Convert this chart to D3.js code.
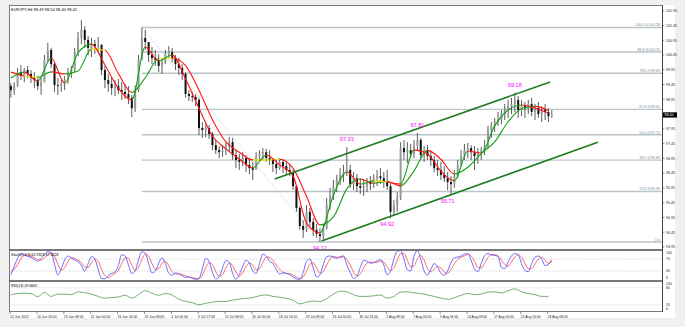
<!DOCTYPE html>
<html>
<head>
<meta charset="utf-8">
<script src="https://cdn.jsdelivr.net/npm/d3@7"></script>
<style>
body { margin: 0; background: #f0f0f0; }
svg text { font-family: "Liberation Sans", Arial, sans-serif; }
</style>
</head>
<body>
<script>
// EURJPY H4, one entry per two H4 bars
var highs = [99.50,99.53,100.01,100.11,100.01,100.08,99.94,99.87,99.74,99.67,
  100.45,100.86,100.69,100.21,99.67,99.60,99.74,100.01,100.08,100.69,
  101.23,101.63,101.43,101.09,101.03,100.96,101.06,100.82,100.08,99.81,
  99.67,99.60,99.64,99.53,99.47,99.40,99.10,99.43,100.45,101.38,
  101.30,100.82,100.72,100.62,100.48,100.35,100.62,100.75,100.69,100.45,
  100.35,100.14,99.87,99.26,99.20,99.13,99.00,98.18,98.11,98.08,
  97.84,97.57,97.37,97.40,97.47,97.67,97.64,97.23,97.10,97.16,
  97.06,96.96,96.83,97.16,97.23,97.30,97.27,97.23,96.96,96.90,
  96.96,96.90,96.83,96.76,96.56,96.05,95.34,94.86,95.37,95.27,
  94.93,94.73,94.59,94.73,95.61,95.95,96.22,96.39,96.62,96.73,
  97.33,96.73,96.49,96.42,96.28,96.22,96.28,96.35,96.42,96.56,
  96.62,96.49,96.56,96.15,95.54,95.81,97.50,97.57,97.50,97.44,
  97.57,97.81,97.64,97.37,97.40,97.23,97.03,96.90,96.83,96.69,
  96.49,96.35,96.56,96.90,97.23,97.44,97.47,97.40,97.37,97.30,
  97.33,97.57,98.05,98.18,98.32,98.52,98.59,98.79,98.93,99.00,
  99.18,99.06,98.93,98.86,98.93,99.00,98.79,98.86,98.72,98.79,
  98.65,98.59];
var lows = [99.00,99.10,99.37,99.60,99.53,99.67,99.50,99.33,99.26,99.10,
  99.53,100.21,100.01,99.20,99.10,99.20,99.26,99.47,99.67,99.87,
  100.41,100.82,100.69,100.45,100.38,100.48,100.55,99.77,99.33,99.20,
  99.10,99.06,99.13,98.93,98.96,98.79,98.35,98.52,99.20,100.35,
  100.62,100.21,100.14,100.08,99.87,99.81,100.14,100.35,100.21,99.94,
  99.77,99.60,99.00,98.89,98.86,98.72,97.74,97.64,97.67,97.61,
  97.23,97.10,96.96,97.00,97.06,97.16,96.90,96.62,96.56,96.69,
  96.49,96.42,96.22,96.62,96.83,96.90,96.83,96.73,96.49,96.42,
  96.56,96.45,96.39,96.35,95.88,95.14,94.53,94.26,94.46,94.66,
  94.32,94.26,94.12,94.19,94.53,95.20,95.54,95.81,96.05,96.15,
  96.35,95.95,95.88,95.81,95.74,95.68,95.81,95.88,95.95,96.01,
  96.08,95.95,95.88,94.92,95.00,95.14,95.54,96.90,96.79,96.96,
  96.96,97.23,96.90,96.83,96.90,96.69,96.49,96.35,96.22,96.15,
  95.88,95.71,95.95,96.28,96.69,96.90,96.96,96.90,96.56,96.76,
  96.90,97.06,97.30,97.64,97.84,98.05,98.11,98.25,98.32,98.45,
  98.52,98.32,98.38,98.32,98.45,98.38,98.25,98.32,98.18,98.25,
  98.18,98.32];
var closes = [99.26,99.43,99.87,99.77,99.94,99.81,99.67,99.60,99.40,99.53,
  100.28,100.62,100.14,99.43,99.40,99.47,99.60,99.87,99.94,100.55,
  101.03,101.30,100.96,100.69,100.82,100.75,100.79,99.94,99.60,99.47,
  99.33,99.40,99.26,99.20,99.13,99.00,98.65,99.26,100.28,101.03,
  100.89,100.45,100.35,100.28,100.08,100.21,100.48,100.55,100.35,100.14,
  100.01,99.81,99.13,99.06,99.03,98.93,97.98,97.91,97.98,97.78,
  97.40,97.23,97.16,97.23,97.37,97.50,97.06,96.90,96.83,96.96,
  96.73,96.62,96.56,97.03,97.10,97.16,96.96,96.90,96.76,96.62,
  96.83,96.69,96.56,96.49,96.01,95.27,94.66,94.53,95.14,94.80,
  94.53,94.39,94.32,94.59,95.37,95.71,96.01,96.22,96.39,96.49,
  96.56,96.08,96.28,96.01,95.95,96.01,96.15,96.08,96.28,96.35,
  96.28,96.15,96.01,95.14,95.34,95.61,97.30,97.16,97.23,97.10,
  97.37,97.57,97.06,97.23,97.03,96.90,96.62,96.56,96.39,96.28,
  96.15,96.08,96.35,96.73,97.03,97.23,97.30,97.16,97.03,97.16,
  97.23,97.37,97.91,98.05,98.18,98.25,98.45,98.59,98.72,98.79,
  98.93,98.59,98.72,98.65,98.79,98.52,98.65,98.45,98.59,98.52,
  98.38,98.42];
var firstOpen = 99.40;

// two colour-changing moving averages, one value every 4 entries above
var maFast = [99.67,99.87,99.57,100.35,99.50,100.52,100.82,100.11,99.33,98.93,
  100.72,100.25,100.45,99.64,98.65,97.71,97.27,96.93,96.63,97.06,
  96.73,96.35,94.76,94.43,95.71,96.49,96.08,96.19,96.15,96.08,
  97.23,97.10,96.52,96.19,97.20,97.13,98.05,98.59,98.76,98.65,98.49];
var maSlow = [99.87,99.74,99.69,99.88,99.81,99.91,100.65,100.61,99.82,99.18,
  99.68,100.33,100.35,100.09,99.26,98.26,97.51,97.16,96.90,96.89,
  96.92,96.61,95.67,94.70,94.97,95.92,96.25,96.11,96.17,96.02,
  96.53,97.22,96.92,96.42,96.65,97.11,97.51,98.19,98.63,98.71,98.57];

// Stochastic(5,3,3), one value per entry above
var stochMain = [18,45,72,88,84,78,76,68,62,72,85,94,92,52,17,38,66,80,74,66,
  62,48,30,55,78,70,35,5,4,15,22,27,48,84,80,50,22,30,68,94,
  90,55,24,30,56,74,55,22,16,24,20,14,9,10,6,2,5,38,72,62,
  25,4,10,40,65,60,22,3,18,45,66,56,30,22,55,86,80,62,55,35,
  20,24,22,18,10,4,2,25,62,70,40,10,18,52,78,80,76,72,78,80,
  50,26,5,12,42,66,62,56,58,64,68,50,18,30,70,96,98,70,34,30,
  80,98,70,30,16,36,55,44,22,16,30,58,74,76,80,86,88,65,36,28,
  55,82,88,84,82,78,42,38,60,80,88,84,55,32,28,55,76,80,70,48,
  52,63];
var stochSignal = [30,35,52,70,82,84,80,74,68,66,74,84,90,80,52,34,40,62,74,72,
  66,58,44,42,58,70,62,36,15,8,14,22,32,55,74,72,50,32,42,68,
  86,80,55,36,38,56,62,48,28,20,20,18,14,10,8,6,5,16,40,58,
  52,28,12,18,40,56,48,26,12,24,45,56,50,34,38,58,76,76,65,50,
  36,26,22,21,16,10,5,10,30,52,58,40,22,28,50,70,78,76,75,77,
  68,50,26,14,20,40,56,60,58,59,63,60,44,32,40,66,88,88,66,44,
  48,70,82,66,38,28,36,45,40,26,22,35,54,68,76,80,85,80,62,42,
  40,56,76,84,84,81,66,52,46,60,76,84,76,56,38,38,54,70,76,66,
  56,68];

// RSI(14), one value every 2 entries above
var rsi = [55,60,61,60,49,64,50,58,58,56,66,63,58,50,44,46,48,54,44,56,
  70,61,54,60,55,40,33,28,21,26,30,33,32,37,41,43,46,52,55,50,
  47,43,37,24,30,34,32,42,58,68,66,56,50,50,52,55,44,50,65,66,
  62,60,55,50,44,40,45,54,60,56,58,65,66,62,70,76,66,60,56,50,50];

var dateLabels = ["12 Jun 2012","14 Jun 16:00","19 Jun 08:00","22 Jun 00:00","26 Jun 16:00",
  "29 Jun 08:00","4 Jul 00:00","6 Jul 17:00","11 Jul 08:00","16 Jul 00:00","18 Jul 16:00",
  "23 Jul 08:00","26 Jul 00:00","30 Jul 16:00","2 Aug 08:00","7 Aug 00:00","9 Aug 16:00",
  "14 Aug 08:00","17 Aug 00:00","21 Aug 16:00","24 Aug 08:00"];
var priceTicks = [93.95,94.45,94.95,95.45,95.95,96.45,96.95,97.45,97.95,98.45,
  98.95,99.45,99.95,100.45,100.95,101.45,101.95];
var stochLevels = [70,30];
var rsiLevels = [80,20];

var fibLevels = ["0.0","23.6","38.2","50.0","61.8","78.6","88.6","100.0"];
var fibPrices = [94.12,95.83,96.89,97.75,98.61,99.83,100.55,101.38];

var extremeTexts = ["99.18","97.81","97.33","94.92","95.71","94.12"];
var extremeBars = [150,121,100,112,130,92];
var extremePrices = [99.18,97.81,97.33,94.92,95.71,94.12];
var extremeIsHigh = [true,true,true,false,false,false];

var upperChannel = [[78.5,96.25],[160.5,99.54]];
var lowerChannel = [[92.5,94.15],[174.7,97.50]];
var fibTrend = [[39,101.38],[92,94.12]];

var W = 685, H = 327;
var left = 9, right = 662;

var svg = d3.select("body").append("svg").attr("width", W).attr("height", H);
var defs = svg.append("defs");
svg.append("rect").attr("width", W).attr("height", H).attr("fill", "#f0f0f0");
svg.append("rect").attr("x", left).attr("y", 5).attr("width", 666).attr("height", 313).attr("fill", "#fff");

var xs = d3.scaleLinear().domain([0, 161]).range([10.84, 551.8]);
var yPrice = d3.scaleLinear().domain([93.95, 101.95]).range([247, 10.7]);
var yStoch = d3.scaleLinear().domain([0, 100]).range([280, 250]);
var yRsi = d3.scaleLinear().domain([0, 100]).range([310.8, 282]);

defs.append("clipPath").attr("id", "clipMain").append("rect")
  .attr("x", left).attr("y", 5.5).attr("width", right - left).attr("height", 243.5);
defs.append("clipPath").attr("id", "clipStoch").append("rect")
  .attr("x", left).attr("y", 250.5).attr("width", right - left).attr("height", 30);
defs.append("clipPath").attr("id", "clipRsi").append("rect")
  .attr("x", left).attr("y", 281.5).attr("width", right - left).attr("height", 30);

var main = svg.append("g").attr("clip-path", "url(#clipMain)");

// fibonacci levels
main.selectAll(".fib").data(fibPrices).enter().append("line")
  .attr("x1", xs(fibTrend[0][0])).attr("x2", right)
  .attr("y1", function(d){ return yPrice(d); }).attr("y2", function(d){ return yPrice(d); })
  .attr("stroke", "#b9c5c9").attr("stroke-width", 1.4);
main.append("line")
  .attr("x1", xs(fibTrend[0][0])).attr("y1", yPrice(fibTrend[0][1]))
  .attr("x2", xs(fibTrend[1][0])).attr("y2", yPrice(fibTrend[1][1]))
  .attr("stroke", "#9aa4a8").attr("stroke-width", 0.7).attr("stroke-dasharray", "1,2");
main.selectAll(".fibtxt").data(fibPrices).enter().append("text")
  .attr("x", right - 2).attr("y", function(d){ return yPrice(d) - 1.2; })
  .attr("text-anchor", "end").attr("font-size", 3.6).attr("fill", "#7c8a96")
  .text(function(d, i){ return i == 0 ? fibLevels[i] : fibLevels[i] + " @" + d.toFixed(2); });

// candles
var candles = main.append("g");
closes.forEach(function(c, i){
  var o = i == 0 ? firstOpen : closes[i - 1];
  var x = xs(i);
  candles.append("line").attr("x1", x).attr("x2", x)
    .attr("y1", yPrice(highs[i])).attr("y2", yPrice(lows[i]))
    .attr("stroke", "#333").attr("stroke-width", 0.8);
  var top = yPrice(Math.max(o, c)), bot = yPrice(Math.min(o, c));
  candles.append("rect").attr("x", x - 1).attr("width", 2)
    .attr("y", top).attr("height", Math.max(0.6, bot - top))
    .attr("fill", c >= o ? "#9a9a9a" : "#111");
});

// moving averages coloured by direction
function drawMA(values, step, id) {
  var pts = values.map(function(v, i){ return [xs(Math.min(i * step, 161)), yPrice(v)]; });
  var x1 = pts[0][0], x2 = pts[pts.length - 1][0];
  var grad = defs.append("linearGradient").attr("id", id).attr("gradientUnits", "userSpaceOnUse")
    .attr("x1", x1).attr("x2", x2).attr("y1", 0).attr("y2", 0);
  for (var i = 0; i < values.length - 1; i++) {
    var d = values[i + 1] - values[i];
    var col = d > 0.05 ? "#12a012" : (d < -0.05 ? "#ff1414" : "#ece000");
    grad.append("stop").attr("offset", (pts[i][0] - x1) / (x2 - x1)).attr("stop-color", col);
    grad.append("stop").attr("offset", (pts[i + 1][0] - x1) / (x2 - x1)).attr("stop-color", col);
  }
  main.append("path").attr("d", d3.line().curve(d3.curveMonotoneX)(pts))
    .attr("fill", "none").attr("stroke", "url(#" + id + ")").attr("stroke-width", 1.1);
}
drawMA(maSlow, 4, "gSlow");
drawMA(maFast, 4, "gFast");

// channel
[upperChannel, lowerChannel].forEach(function(ch){
  main.append("line")
    .attr("x1", xs(ch[0][0])).attr("y1", yPrice(ch[0][1]))
    .attr("x2", xs(ch[1][0])).attr("y2", yPrice(ch[1][1]))
    .attr("stroke", "#1c7c1c").attr("stroke-width", 1.6);
});

// highs / lows
main.selectAll(".ext").data(extremeTexts).enter().append("text")
  .attr("x", function(d, i){ return xs(extremeBars[i]); })
  .attr("y", function(d, i){ return yPrice(extremePrices[i]) + (extremeIsHigh[i] ? -6 : 8); })
  .attr("text-anchor", "middle").attr("font-size", 5.6).attr("fill", "#ff00ff")
  .text(function(d){ return d; });

// title
svg.append("text").attr("x", 11).attr("y", 11).attr("font-size", 4).attr("fill", "#000")
  .text("EURJPY,H4  98.49 98.54 98.40 98.42");

// stochastic panel
var st = svg.append("g").attr("clip-path", "url(#clipStoch)");
st.selectAll(".lv").data(stochLevels).enter().append("line")
  .attr("x1", left).attr("x2", right)
  .attr("y1", function(d){ return yStoch(d); }).attr("y2", function(d){ return yStoch(d); })
  .attr("stroke", "#b0b0b0").attr("stroke-width", 0.6).attr("stroke-dasharray", "1,1.5");
st.append("path").attr("d", d3.line().x(function(d, i){ return xs(i); }).y(function(d){ return yStoch(d); })
  .curve(d3.curveMonotoneX)(stochSignal))
  .attr("fill", "none").attr("stroke", "#ff5a5a").attr("stroke-width", 0.9);
st.append("path").attr("d", d3.line().x(function(d, i){ return xs(i); }).y(function(d){ return yStoch(d); })
  .curve(d3.curveMonotoneX)(stochMain))
  .attr("fill", "none").attr("stroke", "#5a5aff").attr("stroke-width", 0.9);
svg.append("text").attr("x", 11).attr("y", 255.5).attr("font-size", 3.6).attr("fill", "#000")
  .text("Stoch(5,3,3) 62.9323 67.6228");

// RSI panel
var rp = svg.append("g").attr("clip-path", "url(#clipRsi)");
rp.selectAll(".lv").data(rsiLevels).enter().append("line")
  .attr("x1", left).attr("x2", right)
  .attr("y1", function(d){ return yRsi(d); }).attr("y2", function(d){ return yRsi(d); })
  .attr("stroke", "#b0b0b0").attr("stroke-width", 0.6).attr("stroke-dasharray", "1,1.5");
rp.append("path").attr("d", d3.line().x(function(d, i){ return xs(i * 2); }).y(function(d){ return yRsi(d); })
  .curve(d3.curveMonotoneX)(rsi))
  .attr("fill", "none").attr("stroke", "#4f9a4f").attr("stroke-width", 0.8);
svg.append("text").attr("x", 11).attr("y", 286.5).attr("font-size", 3.6).attr("fill", "#000")
  .text("RSI(14) 49.6662");

// frames
var frame = svg.append("g").attr("fill", "none");
frame.append("rect").attr("x", left + 0.5).attr("y", 5.5).attr("width", right - left).attr("height", 306)
  .attr("stroke", "#7a7a7a").attr("stroke-width", 1);
[249.5, 250.5, 280.5, 281.5].forEach(function(y){
  frame.append("line").attr("x1", left).attr("x2", right).attr("y1", y).attr("y2", y)
    .attr("stroke", "#555").attr("stroke-width", 0.8);
});
frame.append("line").attr("x1", right + 0.5).attr("x2", right + 0.5).attr("y1", 5).attr("y2", 312)
  .attr("stroke", "#444").attr("stroke-width", 1);

// price axis
var pa = svg.append("g");
pa.selectAll("line").data(priceTicks).enter().append("line")
  .attr("x1", right).attr("x2", right + 2.5)
  .attr("y1", function(d){ return yPrice(d); }).attr("y2", function(d){ return yPrice(d); })
  .attr("stroke", "#444").attr("stroke-width", 0.6);
pa.selectAll("text").data(priceTicks).enter().append("text")
  .attr("x", right + 4).attr("y", function(d){ return yPrice(d) + 1.3; })
  .attr("font-size", 3.6).attr("fill", "#222")
  .text(function(d){ return d.toFixed(2); });
var last = closes[closes.length - 1];
pa.append("rect").attr("x", right + 1).attr("y", yPrice(last) - 2.6).attr("width", 14).attr("height", 5.2).attr("fill", "#000");
pa.append("text").attr("x", right + 2.5).attr("y", yPrice(last) + 1.3).attr("font-size", 3.6).attr("fill", "#fff")
  .text(last.toFixed(2));

// stoch & rsi axis labels
var stochAxis = [100, 70, 30, 0];
svg.selectAll(".sa").data(stochAxis).enter().append("text")
  .attr("x", right + 4).attr("y", function(d){ return Math.min(278.5, Math.max(253.5, yStoch(d) + 1.3)); })
  .attr("font-size", 3.4).attr("fill", "#222").text(function(d){ return d; });
var rsiAxis = [100, 80, 20, 0];
svg.selectAll(".ra").data(rsiAxis).enter().append("text")
  .attr("x", right + 4).attr("y", function(d){ return Math.min(309.5, Math.max(284.5, yRsi(d) + 1.3)); })
  .attr("font-size", 3.4).attr("fill", "#222").text(function(d){ return d; });

// date axis
var da = svg.append("g");
da.selectAll("line").data(dateLabels).enter().append("line")
  .attr("x1", function(d, i){ return xs(i * 8) - 0.8; }).attr("x2", function(d, i){ return xs(i * 8) - 0.8; })
  .attr("y1", 312).attr("y2", 314).attr("stroke", "#444").attr("stroke-width", 0.6);
da.selectAll("text").data(dateLabels).enter().append("text")
  .attr("x", function(d, i){ return xs(i * 8) - 0.8; }).attr("y", 317.5)
  .attr("font-size", 3.4).attr("fill", "#222").text(function(d){ return d; });
</script>
</body>
</html>
